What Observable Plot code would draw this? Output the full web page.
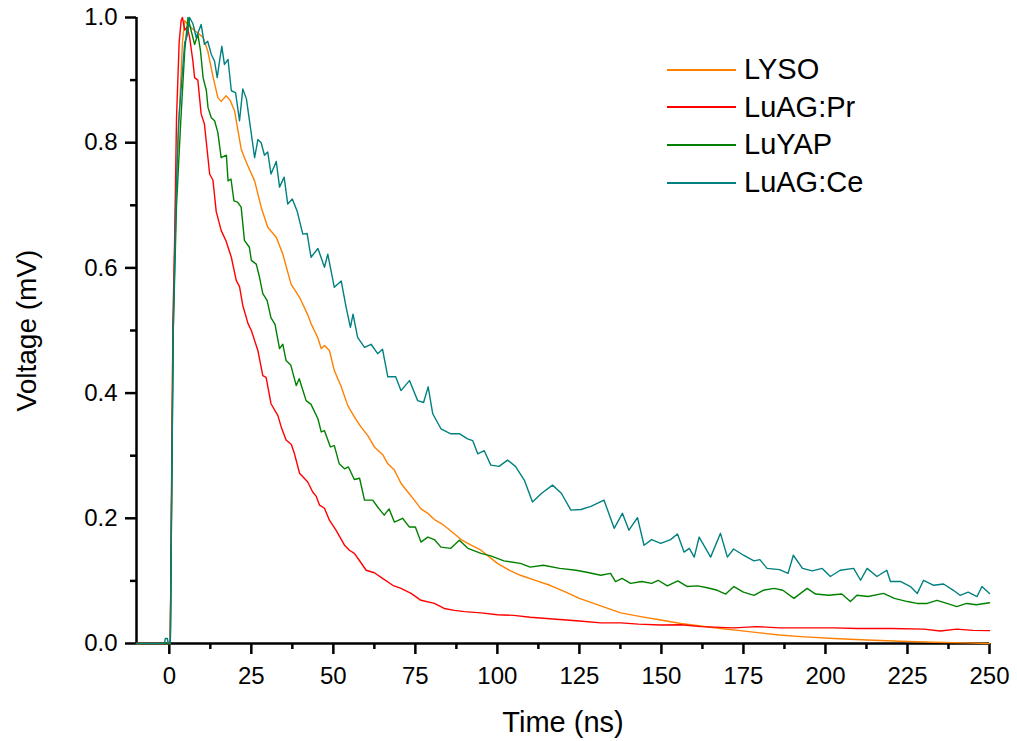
<!DOCTYPE html>
<html>
<head>
<meta charset="utf-8">
<script src="https://cdn.jsdelivr.net/npm/d3@7"></script>
<script src="https://cdn.jsdelivr.net/npm/@observablehq/plot@0.6"></script>
<style>
  html, body { margin: 0; padding: 0; background: #fff; }
  #wrap { position: relative; width: 1017px; height: 741px; font-family: "Liberation Sans", Arial, sans-serif; }
  #legend { position: absolute; left: 667px; top: 51px; }
  .row { display: flex; align-items: center; height: 37.6px; }
  .sw { width: 69px; height: 2px; margin-right: 8px; }
  .lab { font-size: 29px; line-height: 1; color: #000; }
</style>
</head>
<body>
<div id="wrap"><div id="legend"></div></div>
<script>
// ---- Data ----
const seriesNames = ["LYSO", "LuAG:Pr", "LuYAP", "LuAG:Ce"];
const seriesColors = ["#ff8000", "#ff0000", "#008000", "#008080"];

const lysoTime = [-10, 0.3, 1.1, 2.0, 3.0, 4.0, 4.7, 5.5, 6.2, 7.5, 9.2, 10.3, 11.7, 13.3, 14.8, 15.8, 17.3, 18.5, 19.9, 20.9, 21.9, 22.9, 24.2, 26, 28, 30, 32.6, 34.6, 37.1, 39.7, 42.2, 43.2, 45.3, 46.3, 47.3, 48.8, 50.3, 52.4, 54.4, 56.4, 58.4, 60.5, 62.5, 65, 66.6, 68.6, 70.6, 72.7, 74.7, 76.7, 78.8, 80.8, 82.8, 84.8, 87.4, 88.9, 92, 95, 100, 104, 107, 112, 116, 120, 125, 131.5, 137.6, 143.7, 149.8, 155.9, 162, 168, 174, 180, 186, 192.4, 202.5, 212.7, 222.8, 233, 243, 250];
const lysoVolt = [0, 0, 0.5, 0.72, 0.84, 0.96, 0.995, 0.99, 0.986, 0.98, 0.973, 0.968, 0.947, 0.906, 0.872, 0.866, 0.875, 0.868, 0.851, 0.82, 0.79, 0.776, 0.76, 0.739, 0.697, 0.665, 0.649, 0.622, 0.574, 0.553, 0.525, 0.511, 0.488, 0.471, 0.476, 0.468, 0.436, 0.41, 0.38, 0.362, 0.346, 0.332, 0.314, 0.302, 0.287, 0.277, 0.256, 0.242, 0.229, 0.215, 0.208, 0.198, 0.192, 0.184, 0.173, 0.166, 0.157, 0.149, 0.128, 0.116, 0.109, 0.1, 0.093, 0.084, 0.072, 0.06, 0.049, 0.043, 0.0375, 0.032, 0.028, 0.024, 0.0205, 0.017, 0.0136, 0.011, 0.008, 0.0056, 0.0035, 0.002, 0.001, 0.0];

const luagPrTime = [-10, 0.3, 1.1, 1.6, 2.2, 3.0, 3.6, 4.0, 4.7, 5.5, 6.2, 7.2, 7.7, 8.7, 9.7, 10.7, 11.3, 12.3, 13.3, 14.3, 15.8, 17.3, 18.9, 20.4, 21.4, 22.4, 24, 25, 27, 28.5, 29.5, 31, 33.1, 34.1, 35.6, 37.2, 38.1, 39.7, 42.2, 43.7, 44.8, 45.8, 47.3, 48.8, 50.8, 53.4, 54.9, 56.4, 57.9, 60, 62.5, 65, 68.1, 70.6, 73.7, 76.7, 80.8, 83.8, 86.9, 90, 95, 100, 105, 110, 115, 120, 125, 131.5, 137.6, 143, 149.8, 156, 162, 172, 179, 186, 195, 202.5, 210, 220, 230, 235, 240, 245, 250];
const luagPrVolt = [0, 0, 0.51, 0.64, 0.84, 0.96, 0.995, 1.0, 0.98, 0.985, 0.968, 0.93, 0.904, 0.9, 0.846, 0.83, 0.8, 0.75, 0.74, 0.69, 0.66, 0.643, 0.617, 0.58, 0.57, 0.54, 0.511, 0.5, 0.468, 0.428, 0.425, 0.383, 0.364, 0.346, 0.325, 0.318, 0.304, 0.272, 0.258, 0.242, 0.235, 0.221, 0.216, 0.197, 0.181, 0.157, 0.149, 0.144, 0.133, 0.117, 0.113, 0.104, 0.093, 0.088, 0.08, 0.069, 0.064, 0.056, 0.053, 0.051, 0.049, 0.046, 0.045, 0.042, 0.04, 0.038, 0.036, 0.033, 0.033, 0.031, 0.0295, 0.03, 0.027, 0.025, 0.027, 0.025, 0.025, 0.025, 0.024, 0.024, 0.023, 0.02, 0.023, 0.021, 0.0205];

const luyapTime = [-10, 0.3, 1.2, 2.2, 3.5, 4.7, 5.7, 6.7, 7.7, 8.7, 9.5, 10.3, 11.3, 11.8, 12.8, 13.8, 14.8, 15.8, 17.4, 17.9, 18.8, 19.7, 20.8, 21.9, 22.9, 24.4, 25, 26.5, 27.5, 28.5, 29.8, 31, 32.2, 33.6, 34.6, 35.6, 37, 38.7, 39.6, 41.7, 43.2, 45.3, 46.3, 47.3, 49.1, 50.3, 51.8, 53.4, 54.6, 56.4, 58, 59.5, 62, 63.5, 65.5, 67, 68.6, 71.1, 73.2, 75, 76.7, 78.8, 80.8, 82.8, 85.8, 88.4, 91, 95, 98, 102, 107, 110, 114, 119, 124, 128, 131.5, 134.5, 136, 138, 140.6, 144, 147, 149, 151.8, 155, 157.9, 161, 164, 167, 169.6, 172.1, 175, 178.2, 181, 184.3, 187, 190.4, 194.4, 197, 201, 205, 207.6, 209.6, 213, 217.7, 221, 225, 227.9, 231, 234, 237, 240, 243, 246, 250];
const luyapVolt = [0, 0, 0.5, 0.7, 0.835, 0.947, 1.0, 0.978, 0.957, 0.973, 0.947, 0.904, 0.883, 0.856, 0.84, 0.835, 0.816, 0.776, 0.78, 0.739, 0.742, 0.707, 0.705, 0.697, 0.644, 0.633, 0.612, 0.606, 0.585, 0.559, 0.548, 0.52, 0.51, 0.471, 0.478, 0.452, 0.445, 0.412, 0.423, 0.388, 0.382, 0.359, 0.338, 0.34, 0.314, 0.316, 0.287, 0.279, 0.282, 0.262, 0.264, 0.229, 0.229, 0.218, 0.205, 0.215, 0.194, 0.2, 0.186, 0.186, 0.162, 0.17, 0.166, 0.154, 0.152, 0.165, 0.152, 0.144, 0.14, 0.132, 0.128, 0.122, 0.125, 0.12, 0.117, 0.113, 0.109, 0.112, 0.099, 0.104, 0.096, 0.099, 0.096, 0.101, 0.092, 0.1, 0.091, 0.092, 0.089, 0.085, 0.079, 0.091, 0.082, 0.077, 0.085, 0.088, 0.085, 0.072, 0.088, 0.079, 0.077, 0.079, 0.067, 0.077, 0.075, 0.08, 0.072, 0.067, 0.064, 0.064, 0.069, 0.064, 0.059, 0.064, 0.062, 0.065];

const luagCeTime = [-10, -1.5, -1.2, -0.6, -0.3, 0.3, 1.2, 2.1, 2.8, 3.8, 4.7, 5.4, 6.2, 7.2, 8.2, 9.7, 10.7, 11.7, 12.8, 13.8, 14.6, 15.3, 16, 16.8, 17.9, 18.9, 20.2, 21.4, 22.4, 23.5, 25, 26, 27, 28, 29, 30, 31, 32.6, 33.6, 35, 36.1, 37.5, 39, 40.7, 42, 43.2, 45.3, 47.3, 48.3, 50.3, 52.4, 53.9, 55.2, 56, 57.4, 59.5, 61.5, 63.5, 65, 66.6, 69, 70.6, 73.2, 75.7, 77.5, 78.9, 80.3, 82.8, 85.8, 88.5, 90.9, 92.5, 94, 96, 98, 100.5, 103.1, 105.5, 108.2, 110.7, 113.5, 116.8, 119.5, 122.4, 125.5, 128.5, 132.5, 134.5, 135.6, 138.1, 140.1, 142.7, 144.7, 147, 149.8, 152.8, 154.9, 156.9, 158.5, 160, 161.5, 165, 168, 170.1, 172, 175, 178.2, 180, 182.2, 186, 188.6, 190.2, 193, 196, 199, 201.5, 204.5, 208.6, 210.7, 212.7, 215.7, 218.7, 219.8, 223, 225.9, 228, 229.9, 233, 236, 239, 241, 243.5, 246.2, 247.7, 250];
const luagCeVolt = [0, 0, 0.008, 0.008, 0, 0, 0.5, 0.72, 0.83, 0.9, 0.96, 0.97, 1.0, 0.99, 0.968, 0.989, 0.957, 0.962, 0.941, 0.93, 0.904, 0.93, 0.954, 0.925, 0.933, 0.883, 0.88, 0.835, 0.886, 0.87, 0.814, 0.776, 0.805, 0.8, 0.78, 0.785, 0.75, 0.77, 0.729, 0.745, 0.702, 0.71, 0.69, 0.654, 0.655, 0.617, 0.631, 0.601, 0.622, 0.569, 0.579, 0.537, 0.505, 0.526, 0.489, 0.473, 0.478, 0.463, 0.47, 0.426, 0.426, 0.404, 0.42, 0.388, 0.385, 0.41, 0.367, 0.343, 0.335, 0.335, 0.327, 0.324, 0.303, 0.308, 0.285, 0.283, 0.293, 0.283, 0.261, 0.226, 0.24, 0.253, 0.24, 0.213, 0.214, 0.219, 0.229, 0.2, 0.184, 0.208, 0.181, 0.201, 0.157, 0.166, 0.16, 0.166, 0.175, 0.146, 0.152, 0.138, 0.17, 0.138, 0.176, 0.138, 0.151, 0.141, 0.132, 0.134, 0.12, 0.118, 0.112, 0.141, 0.12, 0.116, 0.12, 0.107, 0.117, 0.12, 0.101, 0.12, 0.107, 0.117, 0.099, 0.099, 0.091, 0.08, 0.101, 0.093, 0.095, 0.085, 0.077, 0.082, 0.075, 0.091, 0.08];

const xMajorTicks = [0, 25, 50, 75, 100, 125, 150, 175, 200, 225, 250];
const xMinorTicks = [12.5, 37.5, 62.5, 87.5, 112.5, 137.5, 162.5, 187.5, 212.5, 237.5];
const yMajorTicks = [0, 0.2, 0.4, 0.6, 0.8, 1.0];
const yMinorTicks = [0.1, 0.3, 0.5, 0.7, 0.9];
const xTitle = "Time (ns)";
const yTitle = "Voltage (mV)";

// ---- Build table ----
const seriesTimes = [lysoTime, luagPrTime, luyapTime, luagCeTime];
const seriesVolts = [lysoVolt, luagPrVolt, luyapVolt, luagCeVolt];
const rows = seriesNames.flatMap((name, k) =>
  seriesTimes[k].map((t, i) => ({ name, t, v: seriesVolts[k][i] })));

const font = '"Liberation Sans", Arial, sans-serif';
const axisW = 2.5;

const chart = Plot.plot({
  width: 1017,
  height: 741,
  marginLeft: 136,
  marginRight: 28,
  marginTop: 17,
  marginBottom: 98,
  style: { fontFamily: font, background: "white", color: "black", overflow: "visible" },
  x: { domain: [-10, 250] },
  y: { domain: [0, 1] },
  color: { domain: seriesNames, range: seriesColors },
  marks: [
    Plot.axisX({ ticks: xMajorTicks, tickSize: 11, tickPadding: 12, fontSize: 24, strokeWidth: axisW, label: null }),
    Plot.axisX({ ticks: xMinorTicks, tickSize: 6, tickFormat: () => "", strokeWidth: axisW, label: null }),
    Plot.axisY({ ticks: yMajorTicks, tickSize: 11, tickPadding: 8, fontSize: 24, strokeWidth: axisW, tickFormat: d3.format(".1f"), label: null }),
    Plot.axisY({ ticks: yMinorTicks, tickSize: 6, tickFormat: () => "", strokeWidth: axisW, label: null }),
    Plot.ruleY([0], { strokeWidth: axisW }),
    Plot.ruleX([-10], { strokeWidth: axisW }),
    Plot.line(rows, { x: "t", y: "v", z: "name", stroke: "name", strokeWidth: 1.4 }),
    Plot.text([xTitle], { text: d => d, frameAnchor: "bottom", textAnchor: "middle", lineAnchor: "middle", dy: 79, fontSize: 29, fill: "black" }),
    Plot.text([yTitle], { text: d => d, frameAnchor: "left", textAnchor: "middle", lineAnchor: "middle", rotate: -90, dx: -109, fontSize: 28, fill: "black" })
  ]
});

const wrap = document.getElementById("wrap");
wrap.insertBefore(chart, wrap.firstChild);

// ---- Legend (HTML overlay) ----
const legend = document.getElementById("legend");
seriesNames.forEach((name, i) => {
  const row = document.createElement("div");
  row.className = "row";
  const sw = document.createElement("div");
  sw.className = "sw";
  sw.style.background = seriesColors[i];
  const lab = document.createElement("span");
  lab.className = "lab";
  lab.textContent = name;
  row.appendChild(sw);
  row.appendChild(lab);
  legend.appendChild(row);
});
</script>
</body>
</html>
